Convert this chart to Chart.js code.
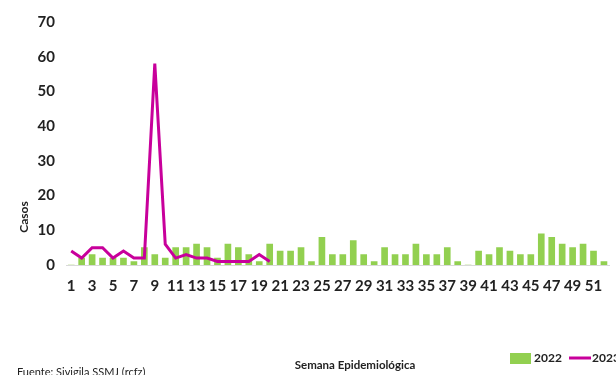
<!DOCTYPE html>
<html>
<head>
<meta charset="utf-8">
<script src="https://cdn.jsdelivr.net/npm/chart.js@4.4.0/dist/chart.umd.min.js"></script>
<style>
  html, body { margin: 0; padding: 0; background: #fff; }
  #wrap { width: 616px; height: 375px; }
</style>
</head>
<body>
<div id="wrap"><canvas id="chart" width="616" height="375"></canvas></div>
<script>
// Casos por semana epidemiológica, 2022 vs 2023

const FONT = "Lato, 'Open Sans', sans-serif";

const weeks = [];
for (let w = 1; w <= 52; w++) weeks.push(String(w));

const cases2022 = [0,2,3,2,2,2,1,5,3,2,5,5,6,5,2,6,5,3,1,6,
                   4,4,5,1,8,3,3,7,3,1,5,3,3,6,3,3,5,1,0,4,
                   3,5,4,3,3,9,8,6,5,6,4,1];
const cases2023 = [4,2,5,5,2,4,2,2,58,6,2,3,2,2,1,1,1,1,3,1];

const yTicks = [0,10,20,30,40,50,60,70];

const yTitle = 'Casos';
const xTitle = 'Semana Epidemiológica';
const source = 'Fuente: Sivigila SSMJ (rcfz)';

// texts that sit outside the axes: y title, x title, source and legend
const extraText = {
  id: 'extraText',
  afterDraw(chart) {
    const ctx = chart.ctx;
    ctx.save();
    ctx.fillStyle = '#222';
    ctx.font = 'bold 12px ' + FONT;
    ctx.textAlign = 'center';
    ctx.textBaseline = 'middle';
    ctx.translate(24, 217);
    ctx.rotate(-Math.PI / 2);
    ctx.fillText(yTitle, 0, 0);
    ctx.restore();

    ctx.save();
    ctx.fillStyle = '#222';
    ctx.font = 'bold 11.5px ' + FONT;
    ctx.textAlign = 'center';
    ctx.textBaseline = 'middle';
    ctx.fillText(xTitle, 355, 365);
    ctx.font = '11px ' + FONT;
    ctx.textAlign = 'left';
    ctx.fillText(source, 17, 372);

    // legend
    const ds = chart.data.datasets;
    const bar = ds.find(d => d.type === 'bar');
    const line = ds.find(d => d.type === 'line');
    ctx.font = 'bold 12px ' + FONT;
    ctx.textBaseline = 'middle';
    ctx.fillStyle = bar.backgroundColor;
    ctx.fillRect(510, 353, 21, 11);
    ctx.fillStyle = '#222';
    ctx.fillText(bar.label, 534, 358);
    ctx.strokeStyle = line.borderColor;
    ctx.lineWidth = 3;
    ctx.beginPath();
    ctx.moveTo(569, 358);
    ctx.lineTo(591, 358);
    ctx.stroke();
    ctx.fillText(line.label, 592, 358);
    ctx.restore();
  }
};

new Chart(document.getElementById('chart'), {
  data: {
    labels: weeks,
    datasets: [
      { type: 'line', label: '2023', data: cases2023, borderColor: '#c8009b', backgroundColor: '#c8009b',
        borderWidth: 3, pointRadius: 0, tension: 0, order: 0 },
      { type: 'bar', label: '2022', data: cases2022, backgroundColor: '#92d050', barThickness: 6, order: 1 }
    ]
  },
  options: {
    responsive: false,
    animation: false,
    layout: { padding: { top: 22, right: 5, bottom: 0, left: 0 } },
    plugins: { legend: { display: false }, tooltip: { enabled: false } },
    scales: {
      x: {
        grid: { display: false, drawTicks: false },
        border: { display: true, color: '#d9d9d9', width: 1 },
        ticks: {
          autoSkip: false, maxRotation: 0, padding: 12,
          color: '#222', font: { family: FONT, size: 15, weight: 'bold' },
          callback: (v, i) => (i % 2 === 0 ? weeks[i] : '')
        },
        afterFit: s => { s.height = 110; }
      },
      y: {
        min: 0, max: 70,
        grid: { display: false, drawTicks: false },
        border: { display: false },
        afterBuildTicks: s => { s.ticks = yTicks.map(v => ({ value: v })); },
        ticks: { padding: 11, color: '#222', font: { family: FONT, size: 15, weight: 'bold' } },
        afterFit: s => { s.width = 66; }
      }
    }
  },
  plugins: [extraText]
});
</script>
</body>
</html>
